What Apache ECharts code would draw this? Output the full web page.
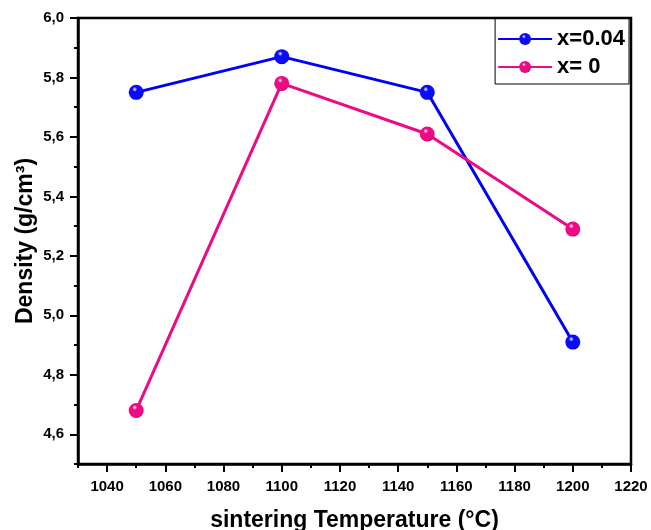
<!DOCTYPE html>
<html>
<head>
<meta charset="utf-8">
<script src="https://cdn.jsdelivr.net/npm/echarts@6/dist/echarts.min.js"></script>
<style>
html,body{margin:0;padding:0;background:#fff;}
#chart{width:651px;height:530px;}
</style>
</head>
<body>
<div id="chart"></div>
<script>
const temps = [1050, 1100, 1150, 1200];
const densityX004 = [5.75, 5.87, 5.75, 4.91];
const densityX0 = [4.68, 5.78, 5.61, 5.29];
const seriesNames = ['x=0.04', 'x= 0'];
const xTickLabels = [1040, 1060, 1080, 1100, 1120, 1140, 1160, 1180, 1200, 1220];
const yTickLabels = [4.6, 4.8, 5.0, 5.2, 5.4, 5.6, 5.8, 6.0];

function sphere(base, dark) {
  return {
    type: 'radial', x: 0.4, y: 0.3, r: 0.75,
    colorStops: [
      {offset: 0, color: '#ffffff'},
      {offset: 0.22, color: base},
      {offset: 0.8, color: base},
      {offset: 1, color: dark}
    ]
  };
}

const FF = 'Liberation Sans, Arial, sans-serif';
const labelFont = {fontFamily: FF, fontWeight: 'bold', fontSize: 15, color: '#000'};
const nameFont = {fontFamily: FF, fontWeight: 'bold', fontSize: 23, color: '#000'};
const chart = echarts.init(document.getElementById('chart'), null, {renderer: 'canvas'});
chart.setOption({
  animation: false,
  backgroundColor: '#fff',
  grid: {left: 78, right: 20, top: 18, bottom: 66, outerBoundsMode: 'none', containLabel: false,
         show: true, borderColor: '#000', borderWidth: 2.5, backgroundColor: 'transparent'},
  legend: {
    data: seriesNames,
    right: 22, top: 18,
    orient: 'vertical',
    itemWidth: 54, itemHeight: 15, itemGap: 6,
    padding: [10, 4, 6, 2],
    borderColor: '#000', borderWidth: 1,
    textStyle: {fontFamily: FF, fontWeight: 'bold', fontSize: 22, color: '#000'}
  },
  xAxis: [
    {
      type: 'value', min: 1030, max: 1220, interval: 10,
      name: 'sintering Temperature (°C)', nameLocation: 'middle', nameGap: 45, nameMoveOverlap: false,
      nameTextStyle: nameFont,
      axisLine: {show: true, lineStyle: {color: '#000', width: 2.5}},
      axisTick: {show: true, length: 8, lineStyle: {color: '#000', width: 2}, customValues: xTickLabels},
      axisLabel: Object.assign({customValues: xTickLabels, margin: 15, formatter: v => String(v)}, labelFont),
      splitLine: {show: false}
    },
    {
      type: 'value', min: 1030, max: 1220, interval: 10, position: 'bottom',
      axisLine: {show: false},
      axisTick: {show: true, length: 4, lineStyle: {color: '#000', width: 2}},
      axisLabel: {show: false},
      splitLine: {show: false}
    }
  ],
  yAxis: [
    {
      type: 'value', min: 4.5, max: 6.0, interval: 0.1,
      name: 'Density (g/cm³)', nameLocation: 'middle', nameGap: 41, nameMoveOverlap: false,
      nameTextStyle: nameFont,
      axisLine: {show: true, lineStyle: {color: '#000', width: 2.5}},
      axisTick: {show: true, length: 8, lineStyle: {color: '#000', width: 2}, customValues: yTickLabels},
      axisLabel: Object.assign({customValues: yTickLabels, margin: 14, formatter: v => v.toFixed(1).replace('.', ',')}, labelFont),
      splitLine: {show: false}
    },
    {
      type: 'value', min: 4.5, max: 6.0, interval: 0.1, position: 'left',
      axisLine: {show: false},
      axisTick: {show: true, length: 4, lineStyle: {color: '#000', width: 2}},
      axisLabel: {show: false},
      splitLine: {show: false}
    }
  ],
  series: [
    {
      name: seriesNames[0], type: 'line',
      data: temps.map((t, i) => [t, densityX004[i]]),
      symbol: 'circle', symbolSize: 15,
      lineStyle: {color: '#0000ff', width: 3},
      itemStyle: {color: sphere('#0a0aff', '#00008a')}
    },
    {
      name: seriesNames[1], type: 'line',
      data: temps.map((t, i) => [t, densityX0[i]]),
      symbol: 'circle', symbolSize: 15,
      lineStyle: {color: '#ee0a84', width: 3},
      itemStyle: {color: sphere('#ee0a84', '#a00058')}
    }
  ]
});
</script>
</body>
</html>
